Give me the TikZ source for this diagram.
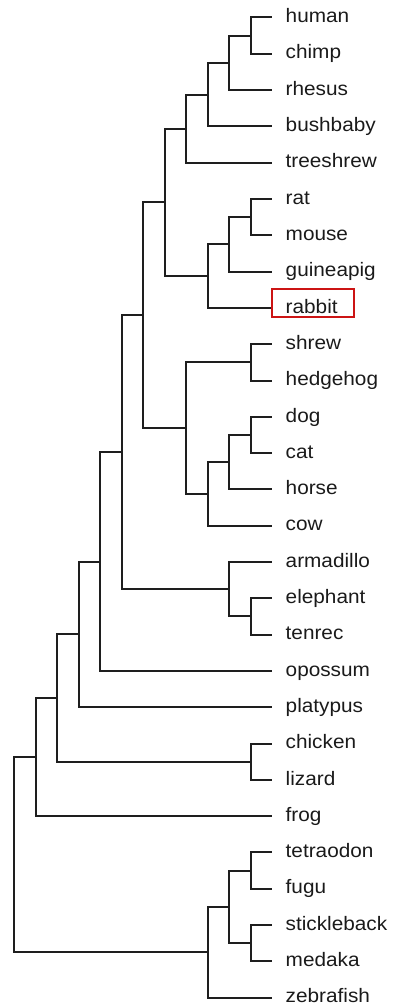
\documentclass[tikz,border=0pt]{standalone}
\usepackage{fontspec}
\setmainfont{Liberation Sans}[FakeStretch=1.065]
\definecolor{treeline}{HTML}{1E1E1E}
\definecolor{labeltext}{HTML}{1A1A1A}
\definecolor{boxred}{HTML}{CC1414}
\begin{document}
\begin{tikzpicture}[x=1pt,y=-1pt,
  branch/.style={line width=2pt, draw=treeline},
  leaflabel/.style={anchor=base west, inner sep=0pt, text=labeltext,
                    font=\fontsize{19.5}{22}\selectfont},
  markbox/.style={draw=boxred, line width=1.8pt}]
\useasboundingbox (0,0) rectangle (393,1006);
% leaves
\foreach \n [count=\i from 0] in {human,chimp,rhesus,bushbaby,treeshrew,rat,mouse,guineapig,rabbit,shrew,hedgehog,dog,cat,horse,cow,armadillo,elephant,tenrec,opossum,platypus,chicken,lizard,frog,tetraodon,fugu,stickleback,medaka,zebrafish}{
  \coordinate (\n) at (272,{17.5+36.3*\i});
  \node[leaflabel] (\n-l) at (285.5,{17.5+36.3*\i+5.2}) {\n};
}
% internal nodes
\coordinate (hc) at (250.5,35.65);
\coordinate (hcr) at (229,62.9);
\coordinate (pri) at (207.5,94.6);
\coordinate (eua) at (186,128.7);
\coordinate (rm) at (250.5,217.15);
\coordinate (rmg) at (229,244.4);
\coordinate (gli) at (207.5,276.1);
\coordinate (euarch) at (164.5,202.4);
\coordinate (sh) at (250.5,362.35);
\coordinate (dc) at (250.5,434.95);
\coordinate (dch) at (229,462.2);
\coordinate (dchc) at (207.5,493.9);
\coordinate (lau) at (186,428.1);
\coordinate (bor) at (143,315.3);
\coordinate (et) at (250.5,616.45);
\coordinate (afx) at (229,589.2);
\coordinate (eut) at (121.5,452.2);
\coordinate (the) at (100,561.6);
\coordinate (mam) at (78.5,634.4);
\coordinate (cl) at (250.5,761.65);
\coordinate (amn) at (57,698.0);
\coordinate (tet) at (35.5,757.1);
\coordinate (tf) at (250.5,870.55);
\coordinate (sm) at (250.5,943.15);
\coordinate (tfsm) at (229,906.85);
\coordinate (fish) at (207.5,952.2);
\coordinate (root) at (14,854.7);
% branches
\foreach \p/\c in {hc/human,hc/chimp,hcr/hc,hcr/rhesus,pri/hcr,pri/bushbaby,eua/pri,eua/treeshrew,
  rm/rat,rm/mouse,rmg/rm,rmg/guineapig,gli/rmg,gli/rabbit,euarch/eua,euarch/gli,
  sh/shrew,sh/hedgehog,dc/dog,dc/cat,dch/dc,dch/horse,dchc/dch,dchc/cow,lau/sh,lau/dchc,
  bor/euarch,bor/lau,et/elephant,et/tenrec,afx/armadillo,afx/et,eut/bor,eut/afx,
  the/eut,the/opossum,mam/the,mam/platypus,cl/chicken,cl/lizard,amn/mam,amn/cl,
  tet/amn,tet/frog,tf/tetraodon,tf/fugu,sm/stickleback,sm/medaka,tfsm/tf,tfsm/sm,
  fish/tfsm,fish/zebrafish,root/tet,root/fish}
  \draw[branch] (\p) |- (\c);
% highlight box around rabbit
\draw[markbox] (272.3,289) rectangle (354.3,317.2);
\end{tikzpicture}
\end{document}
